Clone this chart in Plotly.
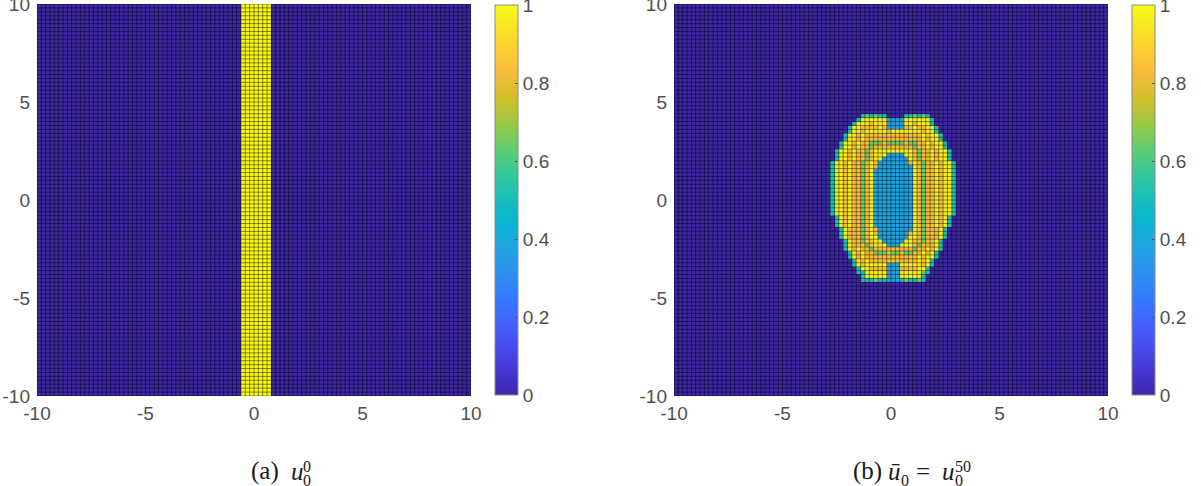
import numpy as np
import plotly.graph_objects as go

# ---------------- data ----------------
cell = 0.2
x_centres = np.round(np.arange(-9.9, 10.0, cell), 1)      # 100 cell centres
y_centres = x_centres.copy()
edges = np.round(np.arange(-10.0, 10.0001, cell), 1)      # 101 cell edges

axis_ticks = [-10, -5, 0, 5, 10]
axis_ticktext = ["-10", "-5", "0", "5", "10"]
cbar_ticks = [0, 0.2, 0.4, 0.6, 0.8, 0.99999]
cbar_ticktext = ["0", "0.2", "0.4", "0.6", "0.8", "1"]

# panel (a): u = 1 on a vertical stripe, 0 elsewhere
stripe_from, stripe_to = -0.6, 0.8
stripe_value = 1.0

# panel (b): cell values, row by row from the top
level = {".": 0.0, "c": 0.38, "t": 0.52, "g": 0.65, "o": 0.84, "y": 0.97}
blob_x0 = -3.1   # x of the centre of column 0
blob_y0 = 4.3    # y of the centre of the first (top) row
MID = "tyyoyoogoy" + "ccccccccc" + "yogooyoyyt"
blob_rows = [
    (9, "tgtgtt" + "...." + "ttgtgt"),
    (8, "tyyyyyy" + "cccc" + "yyyyyyt"),
    (7, "tyyyoyyy" + "cccc" + "yyoyyyt"),
    (6, "tyyooooyo" + "cccc" + "ooyooyyt"),
    (6, "tyyo" + "yyyyyoyyyyyyy" + "oyyt"),
    (5, "tyyoy" + "ooooooooooooo" + "yoyyt"),
    (5, "tyyoyo" + "ooooooooooo" + "oyoyyt"),
    (4, "tyyoyoo" + "gggoggggogg" + "ooyoyyt"),
    (4, "tyyoyoog" + "ooooooooo" + "gooyoyyt"),
    (3, "tyyoyoogo" + "yyyyyyyyy" + "ogooyoyyt"),
    (3, "tyyoyoogo" + "yyy" + "cccc" + "yy" + "ogooyoyyt"),
    (3, "tyyoyoogo" + "yy" + "cccccc" + "y" + "ogooyoyyt"),
    (2, "tyyoyoogoy" + "o" + "ccccccc" + "o" + "yogooyoyyt"),
    (2, "tyyoyoogoy" + "o" + "cccccccc" + "yogooyoyyt"),
    (2, MID), (2, MID), (2, MID), (2, MID), (2, MID), (2, MID),
    (2, MID), (2, MID), (2, MID), (2, MID), (2, MID), (2, MID),
    (3, "tyoyoogoy" + "ccccccccc" + "yogooyoyt"),
    (3, "tyoyoogoy" + "ccccccccc" + "yogooyoyt"),
    (3, "tyoyoogoy" + "ccccccccc" + "yogooyoyt"),
    (4, "tyooogoy" + "o" + "cccccccc" + "yogoooyt"),
    (4, "tyooogoy" + "o" + "ccccccc" + "o" + "yogoooyt"),
    (4, "tyooogoy" + "y" + "ccccccc" + "y" + "yogoooyt"),
    (5, "tyoogooy" + "y" + "ccccc" + "y" + "yoogooyt"),
    (5, "tyooogoyy" + "y" + "ccc" + "y" + "yyogoooyt"),
    (5, "tyoyoog" + "ooooooooo" + "gooyoyt"),
    (6, "tyoyoo" + "gggoggogg" + "ooyoyt"),
    (6, "tyoyo" + "ooooooooooo" + "yoyyt"),
    (7, "tyoy" + "ooooooooooo" + "yoyt"),
    (7, "tyoy" + "yyyy" + "ccc" + "yyyy" + "yoyt"),
    (8, "tyy" + "oooo" + "ccc" + "oooo" + "yyt"),
    (8, "ttyyyyy" + "ccc" + "yyyyygt"),
    (9, "tyyyyy" + "ccc" + "yyyyyt"),
    (9, "tttgtt" + "ccc" + "tgttgt"),
]

# parula colour map (MATLAB), 17 samples
parula = [
    (0.2422, 0.1504, 0.6603), (0.2706, 0.2147, 0.8364), (0.2813, 0.3006, 0.9414),
    (0.2699, 0.3892, 0.9906), (0.1963, 0.4847, 0.9892), (0.1687, 0.5703, 0.9359),
    (0.1248, 0.6459, 0.8883), (0.0297, 0.7082, 0.8163), (0.0964, 0.7500, 0.7120),
    (0.2161, 0.7843, 0.5923), (0.3909, 0.8029, 0.4354), (0.6174, 0.7876, 0.2612),
    (0.8203, 0.7498, 0.1535), (0.9728, 0.7298, 0.2394), (0.9892, 0.8136, 0.1885),
    (0.9597, 0.9135, 0.1423), (0.9769, 0.9839, 0.0805),
]
parula_pos = [0, 4, 8, 12, 16, 20, 24, 28, 32, 36, 40, 44, 48, 52, 56, 60, 63]

# ---------------- build fields ----------------
nx, ny = len(x_centres), len(y_centres)
z_a = np.zeros((ny, nx))
z_a[:, (x_centres > stripe_from) & (x_centres < stripe_to)] = stripe_value

z_b = np.zeros((ny, nx))
for r, (left, row) in enumerate(blob_rows):
    yc = blob_y0 - cell * r
    j = int(round((yc - y_centres[0]) / cell))
    for k, ch in enumerate(row):
        xc = blob_x0 + cell * (left + k)
        i = int(round((xc - x_centres[0]) / cell))
        z_b[j, i] = level[ch]

colorscale = [[p / 63, "rgb(%d,%d,%d)" % tuple(round(v * 255) for v in c)]
              for p, c in zip(parula_pos, parula)]

W, H = 1201, 486
px_x = lambda p: p / W
px_y = lambda p: 1 - p / H

TICKFONT = dict(family="Liberation Sans, Arial, sans-serif", size=19, color="#505050")


def cbar(xpx):
    return dict(
        x=px_x(xpx), xanchor="left", xpad=0,
        y=px_y(395), yanchor="bottom", ypad=0,
        len=390, lenmode="pixels", thickness=23, thicknessmode="pixels",
        outlinewidth=1, outlinecolor="#8a8a8a",
        tickvals=cbar_ticks, ticktext=cbar_ticktext,
        ticks="inside", ticklen=3, tickcolor="#555555", tickwidth=1,
        tickfont=TICKFONT, ticklabelposition="outside",
        ticklabeloverflow="allow",
    )


fig = go.Figure()
fig.add_trace(go.Heatmap(x=x_centres, y=y_centres, z=z_a, zmin=0, zmax=1,
                         colorscale=colorscale, colorbar=cbar(495),
                         xaxis="x", yaxis="y", hoverinfo="skip"))
fig.add_trace(go.Heatmap(x=x_centres, y=y_centres, z=z_b, zmin=0, zmax=1,
                         colorscale=colorscale, colorbar=cbar(1132),
                         xaxis="x2", yaxis="y2", hoverinfo="skip"))

# cell edges (mesh lines) drawn from the grid edges
gx, gy = [], []
for e in edges:
    gx += [e, e, None]
    gy += [edges[0], edges[-1], None]
    gx += [edges[0], edges[-1], None]
    gy += [e, e, None]
for xa, ya in (("x", "y"), ("x2", "y2")):
    fig.add_trace(go.Scatter(x=gx, y=gy, mode="lines", xaxis=xa, yaxis=ya,
                             line=dict(color="rgba(0,0,0,0.45)", width=1),
                             hoverinfo="skip", showlegend=False))

ax_common = dict(range=[-10, 10], tickvals=axis_ticks, ticktext=axis_ticktext,
                 ticks="", showgrid=False, zeroline=False, showline=False,
                 tickfont=TICKFONT, fixedrange=True, automargin=False,
                 ticklabeloverflow="allow")
ydom = [px_y(396), px_y(4)]
fig.update_layout(
    width=W, height=H,
    margin=dict(l=0, r=0, t=0, b=0, pad=0, autoexpand=False),
    paper_bgcolor="white", plot_bgcolor="white", showlegend=False,
    xaxis=dict(domain=[px_x(37), px_x(471)], anchor="y", ticklabelstandoff=4, **ax_common),
    yaxis=dict(domain=ydom, anchor="x", ticklabelstandoff=6, **ax_common),
    xaxis2=dict(domain=[px_x(674), px_x(1108)], anchor="y2", ticklabelstandoff=4, **ax_common),
    yaxis2=dict(domain=ydom, anchor="x2", ticklabelstandoff=6, **ax_common),
)

# captions
SERIF = "Liberation Serif, Times New Roman, serif"


def cap(text, xpx, bottom_px, size, italic=False):
    fig.add_annotation(text=("<i>%s</i>" % text) if italic else text,
                       x=px_x(xpx), y=px_y(bottom_px), xref="paper", yref="paper",
                       xanchor="left", yanchor="bottom", showarrow=False,
                       font=dict(family=SERIF, size=size, color="#1a1a1a"))


cap("(a)", 249, 487, 25)
cap("u", 289, 487, 25, italic=True)
cap("0", 301, 477, 16)
cap("0", 301, 491, 16)

cap("(b)", 851, 487, 25)
cap("ū", 886, 487, 25, italic=True)
cap("0", 899, 491, 16)
cap("=", 914, 487, 25)
cap("u", 940, 487, 25, italic=True)
cap("50", 953, 477, 16)
cap("0", 953, 491, 16)

fig.write_html("out.html")
